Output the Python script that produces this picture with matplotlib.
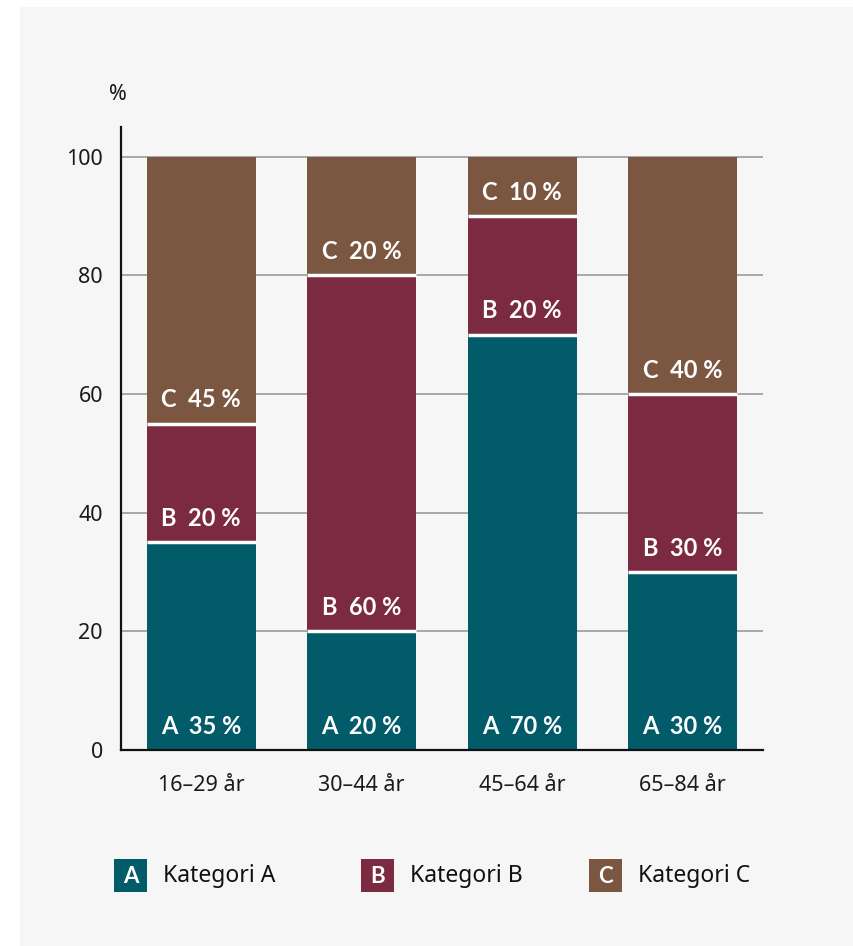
import numpy as np
import matplotlib
matplotlib.use("Agg")
from matplotlib import pyplot as plt
from matplotlib.patches import Rectangle

# age groups and share per category (percent)
groups = ["16–29 år", "30–44 år", "45–64 år", "65–84 år"]
cat_letters = ["A", "B", "C"]
cat_names = ["Kategori A", "Kategori B", "Kategori C"]
share_a = [35, 20, 70, 30]
share_b = [20, 60, 20, 30]
share_c = [45, 20, 10, 40]
y_ticks = [0, 20, 40, 60, 80, 100]

colors = ["#015b68", "#7b2a41", "#7b5741"]
panel = "#f6f6f6"

W, H = 854, 946
plt.rcParams["font.family"] = ["Noto Sans", "DejaVu Sans"]
bold_font = ["Lato", "DejaVu Sans"]


def fx(x):
    return x / W


def fy(y):
    return 1 - y / H


fig = plt.figure(figsize=(W / 100, H / 100), dpi=100, facecolor="white")
fig.add_artist(Rectangle((fx(20), 0), 1 - fx(20), fy(7), transform=fig.transFigure,
                         facecolor=panel, edgecolor="none", zorder=0))

ax = fig.add_axes([fx(121), fy(750), fx(763) - fx(121), fy(127) - fy(750)])
ax.set_facecolor("none")

x = np.arange(len(groups))
width = 0.68
series = [share_a, share_b, share_c]
bottom = np.zeros(len(groups))
for letter, vals, col in zip(cat_letters, series, colors):
    vals = np.array(vals)
    ax.bar(x, vals, width, bottom=bottom, color=col, linewidth=0, zorder=2)
    for xi, b, v in zip(x, bottom, vals):
        ax.text(xi, b + 4.0, f"{letter}  {v} %", ha="center", va="center",
                color="white", fontsize=17, fontweight="bold",
                family=bold_font, zorder=4)
        if b > 0:
            ax.hlines(b, xi - width / 2, xi + width / 2, color="white",
                      linewidth=2.5, zorder=3)
    bottom = bottom + vals

ax.set_xlim(-0.5, 3.5)
ax.set_ylim(0, 105)
ax.set_yticks(y_ticks)
ax.set_yticklabels([str(t) for t in y_ticks])
ax.set_xticks(x)
ax.set_xticklabels(groups)
ax.tick_params(axis="both", length=0, labelsize=15.5, colors="#1a1a1a")
ax.tick_params(axis="y", pad=13)
ax.tick_params(axis="x", pad=18)

ax.grid(axis="y", color="#9a9a9a", linewidth=1.2, zorder=1)
ax.set_axisbelow(True)
for s in ["top", "right"]:
    ax.spines[s].set_visible(False)
for s in ["left", "bottom"]:
    ax.spines[s].set_color("#111111")
    ax.spines[s].set_linewidth(1.6)

fig.text(fx(118), fy(94), "%", ha="center", va="center", fontsize=15.5,
         color="#1a1a1a")

# legend: coloured squares with the category letter
legend_x = [114, 361, 589]
for lx, letter, name, col in zip(legend_x, cat_letters, cat_names, colors):
    fig.add_artist(Rectangle((fx(lx), fy(892)), fx(33), fy(859) - fy(892),
                             transform=fig.transFigure, facecolor=col,
                             edgecolor="none"))
    fig.text(fx(lx + 16.5), fy(876), letter, ha="center", va="center",
             fontsize=16, fontweight="bold", family=bold_font, color="white")
    fig.text(fx(lx + 49), fy(876), name, ha="left", va="center",
             fontsize=16.5, color="#111111")

fig.savefig("out.png", dpi=100, facecolor=fig.get_facecolor())
